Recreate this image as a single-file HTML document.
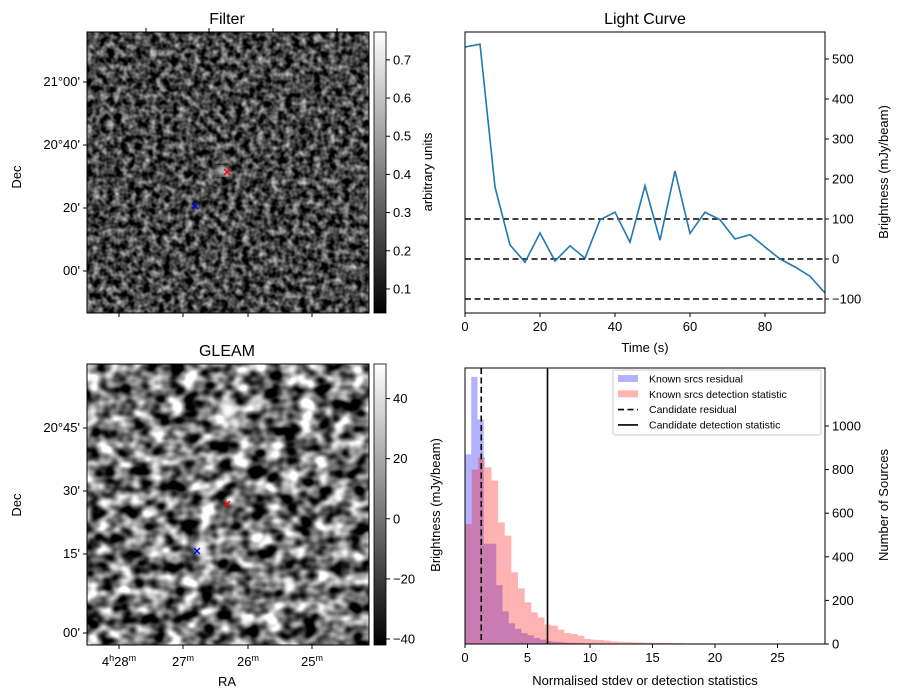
<!DOCTYPE html>
<html><head><meta charset="utf-8">
<style>
body{margin:0;background:#fff;}
svg{display:block;font-family:"Liberation Sans","DejaVu Sans",sans-serif;}
text{fill:#000;}
</style></head>
<body>
<svg id="fig" width="902" height="699" viewBox="0 0 902 699" xmlns="http://www.w3.org/2000/svg">
<defs>
  <filter id="noiseA" x="0" y="0" width="100%" height="100%" color-interpolation-filters="sRGB">
    <feTurbulence type="fractalNoise" baseFrequency="0.14" numOctaves="2" seed="3"/>
    <feColorMatrix type="matrix" values="1 0 0 0 0 1 0 0 0 0 1 0 0 0 0 0 0 0 0 1"/>
    <feComponentTransfer><feFuncR type="linear" slope="1.3" intercept="-0.38"/><feFuncG type="linear" slope="1.3" intercept="-0.38"/><feFuncB type="linear" slope="1.3" intercept="-0.38"/></feComponentTransfer>
  </filter>
  <filter id="noiseB" x="0" y="0" width="100%" height="100%" color-interpolation-filters="sRGB">
    <feTurbulence type="fractalNoise" baseFrequency="0.06 0.075" numOctaves="2" seed="9"/>
    <feColorMatrix type="matrix" values="1 0 0 0 0 1 0 0 0 0 1 0 0 0 0 0 0 0 0 1"/>
    <feComponentTransfer><feFuncR type="linear" slope="2.3" intercept="-0.7"/><feFuncG type="linear" slope="2.3" intercept="-0.7"/><feFuncB type="linear" slope="2.3" intercept="-0.7"/></feComponentTransfer>
  </filter>
  <filter id="blur4"><feGaussianBlur stdDeviation="3"/></filter>
  <linearGradient id="cbar" x1="0" y1="1" x2="0" y2="0"><stop offset="0" stop-color="#000"/><stop offset="1" stop-color="#fff"/></linearGradient>
  <clipPath id="clipB"><rect x="87" y="364" width="282" height="281"/></clipPath>
</defs>

<g>
  <text x="227" y="24" font-size="16" text-anchor="middle">Filter</text>
  <rect x="87" y="32" width="282" height="281" fill="#333" filter="url(#noiseA)"/>
  <rect x="87" y="32" width="282" height="281" fill="none" stroke="#000" stroke-width="1"/>
  <g stroke="#000" stroke-width="1">
    <line x1="146" y1="32" x2="146" y2="28"/><line x1="209" y1="32" x2="209" y2="28"/><line x1="273" y1="32" x2="273" y2="28"/><line x1="337" y1="32" x2="337" y2="28"/>
    <line x1="119" y1="313" x2="119" y2="317"/><line x1="183" y1="313" x2="183" y2="317"/><line x1="248" y1="313" x2="248" y2="317"/><line x1="312" y1="313" x2="312" y2="317"/>
    <line x1="87" y1="82" x2="83" y2="82"/><line x1="87" y1="145" x2="83" y2="145"/><line x1="87" y1="208" x2="83" y2="208"/><line x1="87" y1="271" x2="83" y2="271"/>
    <line x1="369" y1="58" x2="365" y2="58"/><line x1="369" y1="121" x2="365" y2="121"/><line x1="369" y1="184" x2="365" y2="184"/><line x1="369" y1="248" x2="365" y2="248"/><line x1="369" y1="312" x2="365" y2="312"/>
  </g>
  <g font-size="13" text-anchor="end">
    <text x="80" y="86">21°00'</text><text x="80" y="149">20°40'</text><text x="80" y="212">20'</text><text x="80" y="275">00'</text>
  </g>
  <text transform="translate(21,177) rotate(-90)" font-size="13" text-anchor="middle">Dec</text>
  <ellipse cx="222" cy="171" rx="8" ry="5" fill="#bbb" filter="url(#blur4)"/>
  <g stroke="red" stroke-width="1.3"><line x1="224" y1="169" x2="230" y2="175"/><line x1="230" y1="169" x2="224" y2="175"/></g>
  <g stroke="blue" stroke-width="1.3"><line x1="192" y1="203" x2="198" y2="209"/><line x1="198" y1="203" x2="192" y2="209"/></g>
  <rect x="374" y="32" width="12" height="281" fill="url(#cbar)" stroke="#000" stroke-width="0.8"/>
  <g id="cbA" font-size="13"></g>
  <text transform="translate(432,172) rotate(-90)" font-size="13" text-anchor="middle">arbitrary units</text>
</g>

<g>
  <text x="227" y="356" font-size="16" text-anchor="middle">GLEAM</text>
  <g clip-path="url(#clipB)">
    <rect x="87" y="364" width="282" height="281" fill="#777" filter="url(#noiseB)"/>
    <g filter="url(#blur4)" fill="#fff">
      <ellipse cx="228" cy="410" rx="8" ry="9"/><ellipse cx="236" cy="424" rx="4" ry="6"/>
      <ellipse cx="160" cy="540" rx="5" ry="7"/><ellipse cx="200" cy="548" rx="6" ry="8"/>
      <ellipse cx="290" cy="585" rx="4" ry="6"/>
    </g>
    <g filter="url(#blur4)" fill="#111">
      <ellipse cx="185" cy="496" rx="6" ry="5"/><ellipse cx="130" cy="560" rx="5" ry="5"/>
    </g>
  </g>
  <rect x="87" y="364" width="282" height="281" fill="none" stroke="#000" stroke-width="1"/>
  <g stroke="#000" stroke-width="1">
    <line x1="119" y1="645" x2="119" y2="649"/><line x1="183" y1="645" x2="183" y2="649"/><line x1="248" y1="645" x2="248" y2="649"/><line x1="312" y1="645" x2="312" y2="649"/>
    <line x1="87" y1="428" x2="83" y2="428"/><line x1="87" y1="491" x2="83" y2="491"/><line x1="87" y1="554" x2="83" y2="554"/><line x1="87" y1="633" x2="83" y2="633"/>
  </g>
  <g font-size="13" text-anchor="end">
    <text x="80" y="432">20°45'</text><text x="80" y="495">30'</text><text x="80" y="558">15'</text><text x="80" y="637">00'</text>
  </g>
  <g font-size="13" text-anchor="middle">
    <text x="119" y="666">4<tspan font-size="9" dy="-5">h</tspan><tspan dy="5">28</tspan><tspan font-size="9" dy="-5">m</tspan></text>
    <text x="183" y="666">27<tspan font-size="9" dy="-5">m</tspan></text>
    <text x="248" y="666">26<tspan font-size="9" dy="-5">m</tspan></text>
    <text x="312" y="666">25<tspan font-size="9" dy="-5">m</tspan></text>
  </g>
  <text x="227" y="686" font-size="13" text-anchor="middle">RA</text>
  <text transform="translate(21,505) rotate(-90)" font-size="13" text-anchor="middle">Dec</text>
  <g stroke="red" stroke-width="1.3"><line x1="224" y1="501" x2="230" y2="507"/><line x1="230" y1="501" x2="224" y2="507"/></g>
  <g stroke="blue" stroke-width="1.3"><line x1="194" y1="548" x2="200" y2="554"/><line x1="200" y1="548" x2="194" y2="554"/></g>
  <rect x="374" y="364" width="12" height="281" fill="url(#cbar)" stroke="#000" stroke-width="0.8"/>
  <g id="cbB" font-size="13"></g>
  <text transform="translate(440,505) rotate(-90)" font-size="13" text-anchor="middle">Brightness (mJy/beam)</text>
</g>

<g id="lc">
  <text x="645" y="24" font-size="16" text-anchor="middle">Light Curve</text>
  <text x="645" y="352" font-size="13" text-anchor="middle">Time (s)</text>
  <text transform="translate(888,172) rotate(-90)" font-size="13" text-anchor="middle">Brightness (mJy/beam)</text>
</g>

<g id="hist">
  <text x="645" y="685" font-size="13" text-anchor="middle">Normalised stdev or detection statistics</text>
  <text transform="translate(888,505) rotate(-90)" font-size="13" text-anchor="middle">Number of Sources</text>
</g>
</svg>
<script>
const NS="http://www.w3.org/2000/svg";
function mk(tag,attrs,parent){const e=document.createElementNS(NS,tag);for(const k in attrs)e.setAttribute(k,attrs[k]);parent.appendChild(e);return e;}

const lcTimes=[0,4,8,12,16,20,24,28,32,36,40,44,48,52,56,60,64,68,72,76,80,84,88,92,96];
const lcValues=[530,537,180,35,-8,65,-5,33,2,98,117,42,183,47,220,64,117,98,50,61,30,0,-20,-43,-85];
const lcThresholds=[-100,0,100];
const lcXTicks=[0,20,40,60,80];
const lcYTicks=[-100,0,100,200,300,400,500];

const residBinWidth=0.5;
const residCounts=[870,1225,1030,460,460,270,150,95,70,50,40,28,20,14,10,8,6,5,4,3,3,2,2,2,1,1,1,1,1,1,1,1,1,0,0,1];
const detBinWidth=0.53;
const detCounts=[550,800,856,810,750,558,497,329,255,191,145,122,89,84,66,50,46,38,23,20,18,15,12,10,9,8,7,6,6,5,5,4,4,3,3,3,3,2,2,2,0,2,2,1,1,1,1,0,0,0,0,1];
const candidateResidual=1.3;
const candidateDetection=6.6;
const histXTicks=[0,5,10,15,20,25];
const histYTicks=[0,200,400,600,800,1000];

const cbATicks=[0.1,0.2,0.3,0.4,0.5,0.6,0.7];
const cbBTicks=[-40,-20,0,20,40];

(function(){
  const g=document.getElementById('cbA');
  const y=v=>313-(v-0.037)/(0.773-0.037)*281;
  cbATicks.forEach(v=>{
    const l=mk('line',{x1:386,x2:390,y1:y(v),y2:y(v),stroke:'#000'},g);
    
    
    const t=mk('text',{x:393,y:y(v)+4.5},g);t.textContent=v.toFixed(1);
    
    
  });
  const g2=document.getElementById('cbB');
  const y2=v=>645-(v+42)/(51.5+42)*281;
  cbBTicks.forEach(v=>{
    const l=mk('line',{x1:386,x2:390,y1:y2(v),y2:y2(v),stroke:'#000'},g2);
    
    
    const t=mk('text',{x:393,y:y2(v)+4.5},g2);t.textContent=(v<0?'\u2212'+(-v):v);
    
    
  });
})();

(function(){
  const g=document.getElementById('lc');
  const L=465,R=825,T=32,B=313;
  const x=t=>L+t/96*(R-L);
  const y=v=>259-v*0.4;
  lcThresholds.forEach(v=>{
    const l=mk('line',{x1:L,x2:R,y1:y(v),y2:y(v),stroke:'#000','stroke-width':1.6,'stroke-dasharray':'6,3.5'},g);
    
    
  });
  const pts=lcTimes.map((t,i)=>x(t)+','+y(lcValues[i])).join(' ');
  const pl=mk('polyline',{points:pts,fill:'none',stroke:'#1f77b4','stroke-width':1.6},g);
  
  
  const fr=mk('rect',{x:L,y:T,width:R-L,height:B-T,fill:'none',stroke:'#000'},g);
  
  
  lcXTicks.forEach(v=>{
    mk('line',{x1:x(v),x2:x(v),y1:B,y2:B+4,stroke:'#000'},g);
    const t=mk('text',{x:x(v),y:B+18,'font-size':13,'text-anchor':'middle'},g);t.textContent=v;
    
    
  });
  lcYTicks.forEach(v=>{
    mk('line',{x1:R,x2:R+4,y1:y(v),y2:y(v),stroke:'#000'},g);
    const t=mk('text',{x:R+7,y:y(v)+4.5,'font-size':13},g);t.textContent=(v<0?'\u2212'+(-v):v);
    
    
  });
})();

(function(){
  const g=document.getElementById('hist');
  const L=465,R=825,T=368,B=644;
  const x=v=>L+v*12.5;
  const y=c=>B-c*0.218;
  residCounts.forEach((c,i)=>{
    if(c<=0)return;
    const r=mk('rect',{x:x(i*residBinWidth),y:y(c),width:residBinWidth*12.5,height:B-y(c),fill:'#0000ff','fill-opacity':0.3},g);
    
    
  });
  detCounts.forEach((c,i)=>{
    if(c<=0)return;
    const r=mk('rect',{x:x(i*detBinWidth),y:y(c),width:detBinWidth*12.5,height:B-y(c),fill:'#ff0000','fill-opacity':0.3},g);
    
    
  });
  const l1=mk('line',{x1:x(candidateResidual),x2:x(candidateResidual),y1:T,y2:B,stroke:'#000','stroke-width':1.6,'stroke-dasharray':'6,3.5'},g);
  
  
  const l2=mk('line',{x1:x(candidateDetection),x2:x(candidateDetection),y1:T,y2:B,stroke:'#000','stroke-width':1.6},g);
  
  
  const fr=mk('rect',{x:L,y:T,width:R-L,height:B-T,fill:'none',stroke:'#000'},g);
  
  
  histXTicks.forEach(v=>{
    mk('line',{x1:x(v),x2:x(v),y1:B,y2:B+4,stroke:'#000'},g);
    const t=mk('text',{x:x(v),y:B+18,'font-size':13,'text-anchor':'middle'},g);t.textContent=v;
    
    
  });
  histYTicks.forEach(v=>{
    mk('line',{x1:R,x2:R+4,y1:y(v),y2:y(v),stroke:'#000'},g);
    const t=mk('text',{x:R+7,y:y(v)+4.5,'font-size':13},g);t.textContent=v;
    
    
  });
  const lg=mk('g',{},g);
  
  
  mk('rect',{x:613,y:370,width:208,height:65,fill:'#fff','fill-opacity':0.8,stroke:'#ccc',rx:2},lg);
  const items=[['Known srcs residual','box','#0000ff'],['Known srcs detection statistic','box','#ff0000'],['Candidate residual','dash'],['Candidate detection statistic','solid']];
  items.forEach((it,i)=>{
    const yy=379+i*15.3;
    if(it[1]==='box'){mk('rect',{x:618,y:yy-4,width:20,height:7,fill:it[2],'fill-opacity':0.3},lg);}
    else{mk('line',{x1:618,x2:638,y1:yy,y2:yy,stroke:'#000','stroke-width':1.6,'stroke-dasharray':it[1]==='dash'?'6,3.5':'none'},lg);}
    const t=mk('text',{x:649,y:yy+3.5,'font-size':10.5},lg);t.textContent=it[0];
    
    
  });
})();
</script>
</body></html>
